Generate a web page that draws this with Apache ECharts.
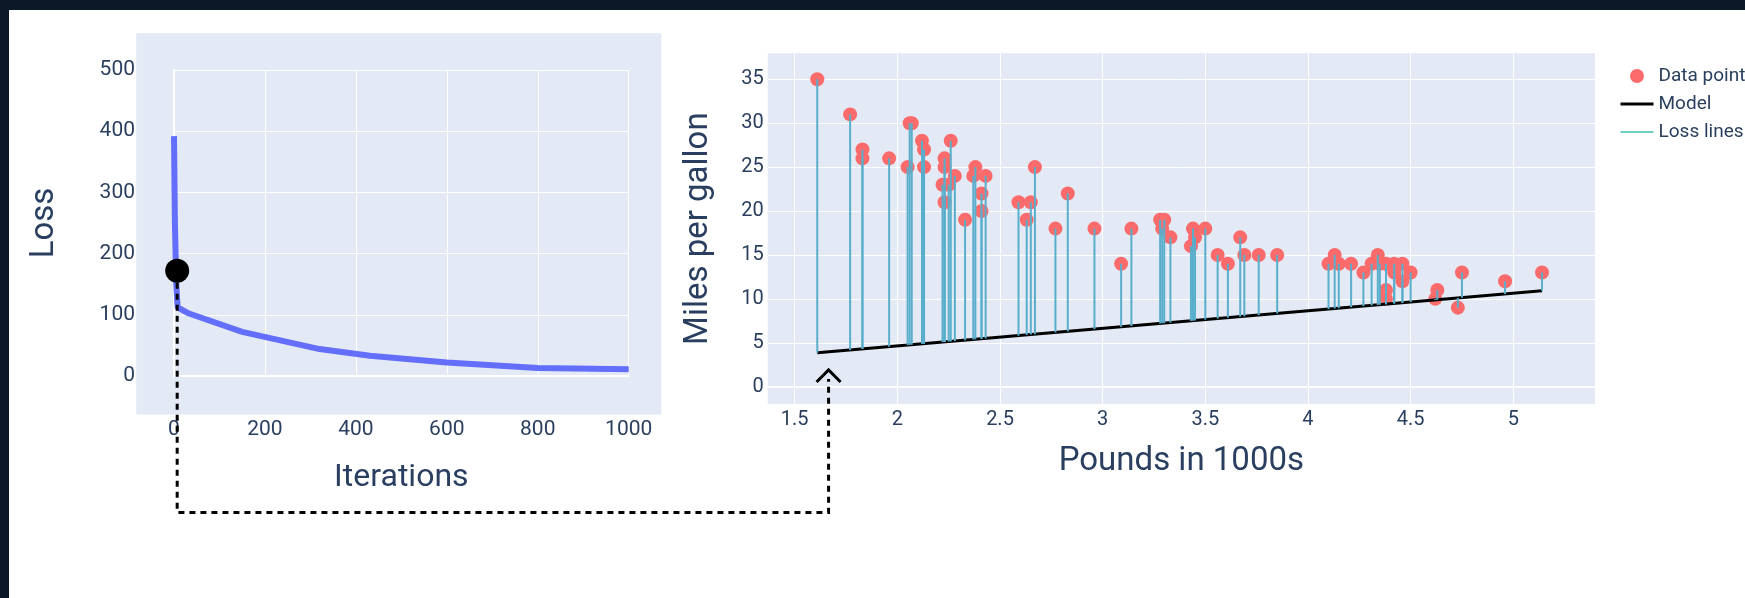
<!DOCTYPE html>
<html><head><meta charset="utf-8">
<script src="https://cdn.jsdelivr.net/npm/echarts@6/dist/echarts.min.js"></script>
<style>
html,body{margin:0;padding:0;width:1745px;height:598px;overflow:hidden;background:#0b1828;}
#panel{position:absolute;left:9px;top:10px;right:0;bottom:0;background:#ffffff;}
#chart{position:absolute;left:0;top:0;width:1745px;height:598px;}
</style></head><body>
<div id="panel"></div><div id="chart"></div>
<script>
// ---- Left chart: loss over iterations ----
const lossIterations = [0, 2, 5, 8, 30, 150, 320, 431, 600, 800, 1000];
const lossValues     = [392, 250, 150, 112, 103, 72, 44, 33, 22, 13, 11];
const currentIteration = [7];
const currentLoss = [172];
const iterTicks = [0, 200, 400, 600, 800, 1000];
const lossTicks = [0, 100, 200, 300, 400, 500];

// ---- Right chart: mpg vs weight ----
const weights = [1.61, 1.77, 1.83, 1.83, 1.96, 2.05, 2.06, 2.07, 2.12, 2.13, 2.13,
  2.22, 2.23, 2.23, 2.23, 2.25, 2.26, 2.28, 2.33, 2.37, 2.38, 2.41, 2.41, 2.43,
  2.59, 2.63, 2.65, 2.67, 2.77, 2.83, 2.96, 3.09, 3.14, 3.28, 3.29, 3.30, 3.33,
  3.43, 3.44, 3.45, 3.50, 3.56, 3.61, 3.67, 3.69, 3.76, 3.85, 4.10, 4.13, 4.15,
  4.21, 4.27, 4.31, 4.34, 4.35, 4.38, 4.38, 4.38, 4.42, 4.42, 4.46, 4.46, 4.50,
  4.62, 4.63, 4.73, 4.75, 4.96, 5.14];
const mpg = [35, 31, 27, 26, 26, 25, 30, 30, 28, 27, 25,
  23, 26, 25, 21, 23, 28, 24, 19, 24, 25, 22, 20, 24,
  21, 19, 21, 25, 18, 22, 18, 14, 18, 19, 18, 19, 17,
  16, 18, 17, 18, 15, 14, 17, 15, 15, 15, 14, 15, 14,
  14, 13, 14, 15, 14, 14, 11, 10, 14, 13, 14, 12, 13,
  10, 11, 9, 13, 12, 13];
const modelSlope = 2.0;
const modelIntercept = 0.63;
const modelRange = [1.61, 5.14];
const weightTicks = [1.5, 2, 2.5, 3, 3.5, 4, 4.5, 5];
const mpgTicks = [0, 5, 10, 15, 20, 25, 30, 35];
const arrowTarget = [1.665, 1.9];

const TXT = '#2a3f5f';
const FONT = 'Roboto';
const predict = x => modelIntercept + modelSlope * x;
const plain = v => String(v);

const chart = echarts.init(document.getElementById('chart'), null, {renderer: 'canvas'});

const option = {
  animation: false,
  backgroundColor: 'transparent',
  textStyle: {fontFamily: FONT, color: TXT},
  grid: [
    {left: 174, top: 70, width: 454.7, height: 306, show: false},
    {left: 767.7, top: 53.3, width: 827.3, height: 350.7, show: true,
     backgroundColor: '#e3eaf5', borderWidth: 0}
  ],
  xAxis: [
    {gridIndex: 0, type: 'value', min: iterTicks[0], max: iterTicks[iterTicks.length - 1],
     interval: iterTicks[1] - iterTicks[0],
     name: 'Iterations', nameLocation: 'middle', nameGap: 86,
     nameTextStyle: {fontSize: 32, color: TXT, fontFamily: FONT},
     axisLine: {show: true, onZero: true, lineStyle: {color: '#ffffff', width: 2}},
     axisTick: {show: false},
     axisLabel: {fontSize: 21, color: TXT, margin: 43, fontFamily: FONT, formatter: plain},
     splitLine: {show: true, lineStyle: {color: '#ffffff', width: 1}}},
    {gridIndex: 1, type: 'value', min: 1.3685, max: 5.398,
     name: 'Pounds in 1000s', nameLocation: 'middle', nameGap: 41,
     nameTextStyle: {fontSize: 33, color: TXT, fontFamily: FONT},
     axisLine: {show: false, onZero: false},
     axisTick: {show: false, customValues: weightTicks},
     axisLabel: {fontSize: 20, color: TXT, margin: 6, fontFamily: FONT, customValues: weightTicks, formatter: plain},
     splitLine: {show: true, lineStyle: {color: '#ffffff', width: 1}}}
  ],
  yAxis: [
    {gridIndex: 0, type: 'value', min: lossTicks[0], max: lossTicks[lossTicks.length - 1],
     interval: lossTicks[1] - lossTicks[0],
     name: 'Loss', nameLocation: 'middle', nameGap: 113,
     nameTextStyle: {fontSize: 33, color: TXT, fontFamily: FONT},
     axisLine: {show: true, onZero: true, lineStyle: {color: '#ffffff', width: 2}},
     axisTick: {show: false},
     axisLabel: {fontSize: 21, color: TXT, margin: 39, fontFamily: FONT, formatter: plain},
     splitLine: {show: true, lineStyle: {color: '#ffffff', width: 1}}},
    {gridIndex: 1, type: 'value', min: -1.974, max: 37.96,
     name: 'Miles per gallon', nameLocation: 'middle', nameGap: 52,
     nameTextStyle: {fontSize: 33, color: TXT, fontFamily: FONT},
     axisLine: {show: false, onZero: false},
     axisTick: {show: false, customValues: mpgTicks},
     axisLabel: {fontSize: 20, color: TXT, margin: 4, fontFamily: FONT, customValues: mpgTicks, formatter: plain},
     splitLine: {show: true, lineStyle: {color: '#ffffff', width: 1}}}
  ],
  legend: {
    orient: 'vertical', left: 1614, top: 61, itemWidth: 33, itemHeight: 14, itemGap: 8,
    selectedMode: false,
    textStyle: {fontSize: 19, color: TXT, fontFamily: FONT, lineHeight: 20},
    data: [
      {name: 'Data point', icon: 'circle'},
      {name: 'Model', itemStyle: {opacity: 0}, lineStyle: {width: 3, color: '#000000'}},
      {name: 'Loss lines', itemStyle: {opacity: 0}, lineStyle: {width: 2, color: '#6fd0c2'}}
    ]
  },
  series: [
    {type: 'line', name: 'Loss', xAxisIndex: 0, yAxisIndex: 0,
     data: lossIterations.map((it, i) => [it, lossValues[i]]),
     symbol: 'none', lineStyle: {color: '#636efa', width: 6}, z: 2},
    {type: 'scatter', name: 'Current', xAxisIndex: 0, yAxisIndex: 0,
     data: currentIteration.map((it, i) => [it, currentLoss[i]]),
     symbolSize: 24, itemStyle: {color: '#000000', opacity: 1}, z: 20},
    {type: 'scatter', name: 'Data point', xAxisIndex: 1, yAxisIndex: 1,
     data: weights.map((w, i) => [w, mpg[i]]),
     symbolSize: 14, itemStyle: {color: '#fc6b6b', opacity: 1}, z: 2,
     markLine: {silent: true, symbol: 'none', label: {show: false},
       lineStyle: {color: '#ffffff', width: 2, type: 'solid'}, data: [{yAxis: 0}], z: 0}},
    {type: 'line', name: 'Model', xAxisIndex: 1, yAxisIndex: 1,
     data: modelRange.map(x => [x, predict(x)]),
     symbol: 'none', lineStyle: {color: '#000000', width: 3}, itemStyle: {color: '#000000'}, z: 3},
    {type: 'line', name: 'Loss lines', xAxisIndex: 1, yAxisIndex: 1, data: [],
     symbol: 'none', lineStyle: {color: '#6fd0c2', width: 2}, itemStyle: {color: '#6fd0c2'}},
    {type: 'custom', name: 'Loss lines', xAxisIndex: 1, yAxisIndex: 1,
     data: weights.map((w, i) => [w, mpg[i]]), z: 4,
     renderItem: function (params, api) {
       const x = api.value(0), y = api.value(1);
       const p1 = api.coord([x, y]);
       const p2 = api.coord([x, predict(x)]);
       return {type: 'line', shape: {x1: p1[0], y1: p1[1], x2: p2[0], y2: p2[1]},
               style: {stroke: '#58aecb', lineWidth: 2}};
     }}
  ]
};
chart.setOption(option);

// Dashed connector: from the current-loss dot to the model's start on the right chart
const dot = chart.convertToPixel({gridIndex: 0}, [currentIteration[0], currentLoss[0]]);
const tip = chart.convertToPixel({gridIndex: 1}, arrowTarget);
const baseY = 512.5;
// plot background for the left panel (wider than its gridline area)
const bgTL = chart.convertToPixel({gridIndex: 0}, [-83, 560]);
const bgBR = chart.convertToPixel({gridIndex: 0}, [1072, -63]);
chart.setOption({
  graphic: [
    {type: 'rect', z: -10, silent: true,
     shape: {x: bgTL[0], y: bgTL[1], width: bgBR[0] - bgTL[0], height: bgBR[1] - bgTL[1]},
     style: {fill: '#e3eaf5'}},
    {type: 'polyline', z: 10, silent: true,
     shape: {points: [[dot[0], dot[1] + 12], [dot[0], baseY], [tip[0], baseY], [tip[0], tip[1] + 9]]},
     style: {stroke: '#000000', lineWidth: 3, lineDash: [6, 5], fill: null}},
    {type: 'polyline', z: 10, silent: true,
     shape: {points: [[tip[0] - 12, tip[1] + 12], [tip[0], tip[1]], [tip[0] + 12, tip[1] + 12]]},
     style: {stroke: '#000000', lineWidth: 3, fill: null}}
  ]
});
</script>
</body></html>
